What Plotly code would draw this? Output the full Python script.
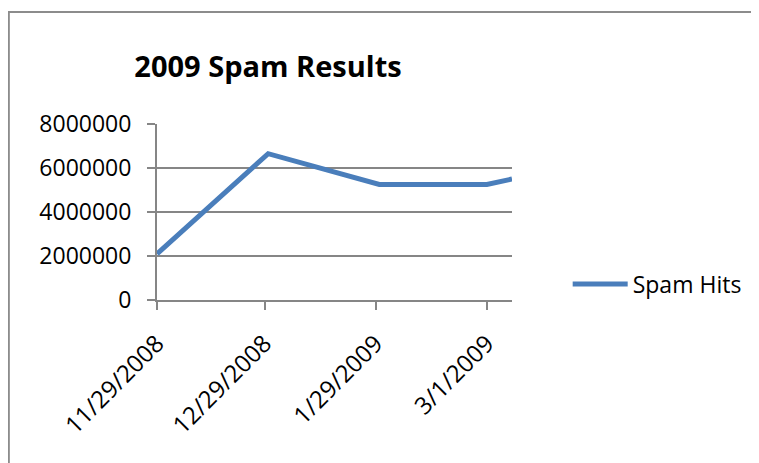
import plotly.graph_objects as go

# ---- data ----
dates = ["2008-11-29", "2008-12-30", "2009-01-30", "2009-03-01", "2009-03-08"]
spam_hits = [2100000, 6650000, 5250000, 5250000, 5500000]
series_name = "Spam Hits"
title_text = "2009 Spam Results"
x_tick_vals = ["2008-11-29", "2008-12-29", "2009-01-29", "2009-03-01"]
x_tick_text = ["11/29/2008", "12/29/2008", "1/29/2009", "3/1/2009"]
y_tick_vals = [0, 2000000, 4000000, 6000000, 8000000]
y_tick_text = ["0", "2000000", "4000000", "6000000", "8000000"]

OFF = 8  # page body offset
W, H = 759 - OFF, 463 - OFF
L, R, T, B = 157 - OFF, 514 - OFF, 124 - OFF, 300 - OFF  # plot area in figure pixels
pw, ph = R - L, B - T

def px_x(x):
    return (x - OFF - L) / pw

def px_y(y):
    return (B - (y - OFF)) / ph

FONT = "Open Sans"
GRAY = "#868686"

fig = go.Figure()
fig.add_trace(go.Scatter(
    x=dates, y=spam_hits, mode="lines", name=series_name,
    line=dict(color="#4A7EBB", width=5),
))

fig.update_layout(
    width=W, height=H, autosize=False,
    margin=dict(l=L, r=W - R, t=T, b=H - B),
    paper_bgcolor="white", plot_bgcolor="white",
    font=dict(family=FONT, size=23, color="black"),
    title=dict(text="<b>" + title_text + "</b>", x=(268 - OFF) / W, xanchor="center",
               y=1 - (67 - OFF) / H, yanchor="middle", yref="container",
               font=dict(family=FONT, size=29, color="black")),
    showlegend=True,
    legend=dict(x=px_x(570), xanchor="left", y=px_y(284), yanchor="middle",
                font=dict(family=FONT, size=23, color="black"),
                bgcolor="rgba(0,0,0,0)", itemwidth=55),
    xaxis=dict(type="date", range=[dates[0], dates[-1]],
               tickvals=x_tick_vals, ticktext=x_tick_text, tickangle=-45,
               showgrid=False, showline=True, linecolor=GRAY, linewidth=2,
               ticks="outside", ticklen=8, tickcolor=GRAY, tickwidth=2,
               ticklabelstandoff=10,
               zeroline=False, tickfont=dict(family=FONT, size=24)),
    yaxis=dict(range=[0, 8000000], tickvals=y_tick_vals, ticktext=y_tick_text,
               showgrid=True, gridcolor=GRAY, gridwidth=1.5,
               showline=True, linecolor=GRAY, linewidth=2,
               ticks="outside", ticklen=8, tickcolor=GRAY, tickwidth=2,
               ticklabelstandoff=11,
               zeroline=False, tickfont=dict(family=FONT, size=23)),
    shapes=[dict(type="rect", xref="paper", yref="paper",
                 x0=px_x(8), x1=px_x(759 + 10), y0=px_y(463 + 10), y1=px_y(12),
                 line=dict(color="#8C8C8C", width=2), fillcolor="rgba(0,0,0,0)",
                 layer="below")],
)

fig.write_html("out.html")
